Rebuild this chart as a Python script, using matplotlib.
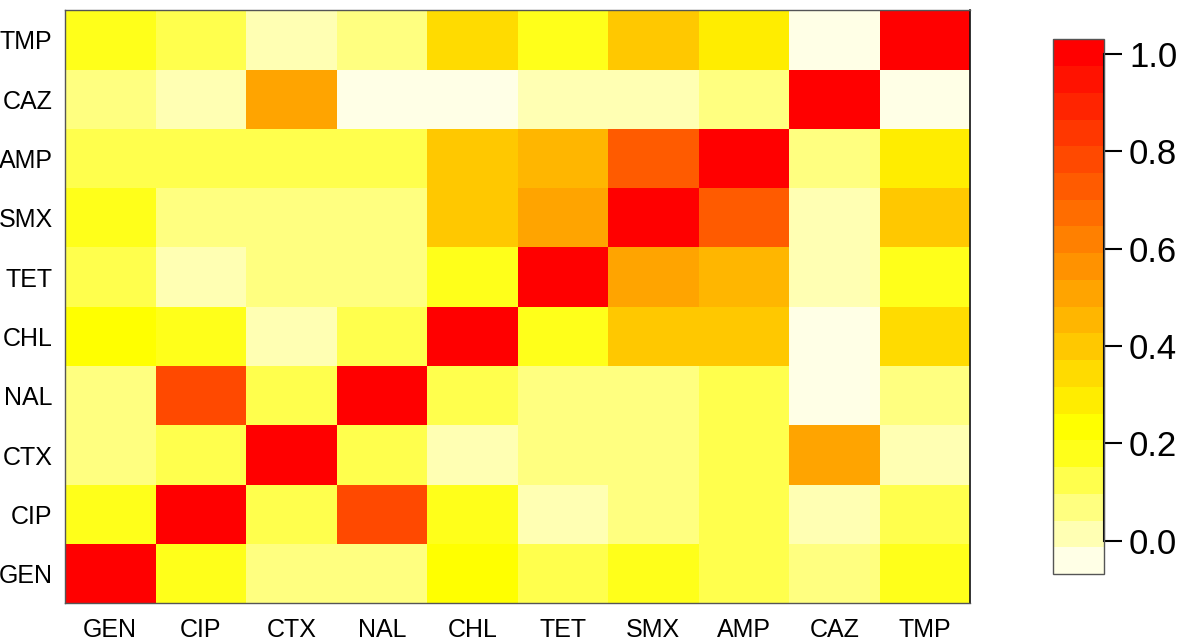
import numpy as np
import matplotlib
matplotlib.use("Agg")
import matplotlib.pyplot as plt
from matplotlib.colors import ListedColormap, BoundaryNorm

plt.rcParams['font.family'] = ['Liberation Sans', 'DejaVu Sans']

drugs = ["GEN", "CIP", "CTX", "NAL", "CHL", "TET", "SMX", "AMP", "CAZ", "TMP"]

# correlation matrix, rows in order of drugs (GEN first, bottom row)
row_GEN = [1.00, 0.18, 0.07, 0.07, 0.23, 0.12, 0.18, 0.12, 0.07, 0.18]
row_CIP = [0.18, 1.00, 0.12, 0.78, 0.18, 0.01, 0.07, 0.12, 0.01, 0.12]
row_CTX = [0.07, 0.12, 1.00, 0.12, 0.01, 0.07, 0.07, 0.12, 0.51, 0.01]
row_NAL = [0.07, 0.78, 0.12, 1.00, 0.12, 0.07, 0.07, 0.12, -0.04, 0.07]
row_CHL = [0.23, 0.18, 0.01, 0.12, 1.00, 0.18, 0.40, 0.40, -0.04, 0.34]
row_TET = [0.12, 0.01, 0.07, 0.07, 0.18, 1.00, 0.51, 0.45, 0.01, 0.18]
row_SMX = [0.18, 0.07, 0.07, 0.07, 0.40, 0.51, 1.00, 0.73, 0.01, 0.40]
row_AMP = [0.12, 0.12, 0.12, 0.12, 0.40, 0.45, 0.73, 1.00, 0.07, 0.29]
row_CAZ = [0.07, 0.01, 0.51, -0.04, -0.04, 0.01, 0.01, 0.07, 1.00, -0.04]
row_TMP = [0.18, 0.12, 0.01, 0.07, 0.34, 0.18, 0.40, 0.29, -0.04, 1.00]

matrix = np.array([row_GEN, row_CIP, row_CTX, row_NAL, row_CHL,
                   row_TET, row_SMX, row_AMP, row_CAZ, row_TMP])

cbar_ticks = [0.0, 0.2, 0.4, 0.6, 0.8, 1.0]
zlim = (-0.068, 1.03)

# reversed R heat.colors(20)
colors = ["#FFFFE6", "#FFFFB3", "#FFFF80", "#FFFF4D", "#FFFF1A",
          "#FFFF00", "#FFED00", "#FFDB00", "#FFC800", "#FFB600",
          "#FFA400", "#FF9200", "#FF8000", "#FF6D00", "#FF5B00",
          "#FF4900", "#FF3700", "#FF2400", "#FF1200", "#FF0000"]
cmap = ListedColormap(colors)
bounds = np.linspace(zlim[0], zlim[1], len(colors) + 1)
norm = BoundaryNorm(bounds, cmap.N)

W, H = 1184, 644
fig = plt.figure(figsize=(W / 100, H / 100), dpi=100)

ax = fig.add_axes([65 / W, 1 - 603.3 / H, (970 - 65) / W, (603.3 - 10.3) / H])
n = len(drugs)
mesh = ax.pcolormesh(np.arange(n + 1), np.arange(n + 1), matrix,
                     cmap=cmap, norm=norm, shading='flat')
ax.set_xlim(0, n)
ax.set_ylim(0, n)
ax.set_xticks(np.arange(n) + 0.5)
ax.set_yticks(np.arange(n) + 0.5)
ax.set_xticklabels(drugs, fontsize=18)
ax.set_yticklabels(drugs, fontsize=18)
ax.tick_params(axis='both', length=0)
ax.tick_params(axis='x', pad=10.5)
ax.tick_params(axis='y', pad=9)
for side in ['left', 'bottom', 'top']:
    ax.spines[side].set_color('#555555')
    ax.spines[side].set_linewidth(1.0)
ax.spines['right'].set_color('#111111')
ax.spines['right'].set_linewidth(1.2)

cax = fig.add_axes([1053 / W, 1 - 574 / H, (1104 - 1053) / W, (574 - 39.3) / H])
cb = fig.colorbar(mesh, cax=cax, boundaries=bounds, ticks=cbar_ticks)
cb.outline.set_edgecolor('#555555')
cb.outline.set_linewidth(1.0)
cax.minorticks_off()
cax.set_yticklabels([f"{t:.1f}" for t in cbar_ticks], fontsize=25)
cax.tick_params(axis='y', which='major', length=13, width=1.5, color='black', pad=5)
cax.tick_params(axis='y', which='minor', length=0)
cax.plot([1, 1], [cbar_ticks[0], cbar_ticks[-1]], color='black', lw=1.5,
         transform=cax.get_yaxis_transform(), clip_on=False)

fig.savefig("out.png", dpi=100)
